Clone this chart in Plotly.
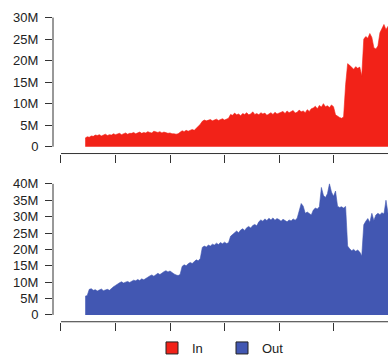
import plotly.graph_objects as go

# Daily traffic, values in millions (day index starts at 12)
start_day = 12
in_values = [
    2.0, 2.3, 2.2,
    2.5, 2.4, 2.7, 2.6, 2.8, 2.5, 2.7, 2.9, 2.6, 2.8, 2.7, 3.0, 2.8,
    2.9, 3.1, 2.8, 3.0, 3.2, 2.9, 3.1,
    3.1, 3.3, 3.0, 3.2, 3.4, 3.1, 3.3, 3.2, 3.5, 3.3, 3.2, 3.6, 3.4, 3.3, 3.5, 3.2, 3.4, 3.3, 3.1, 3.2, 3.0,
    3.0, 2.9, 3.0,
    3.4, 3.7, 3.5, 3.8, 3.6, 3.9, 4.0, 3.8, 4.2, 4.6,
    5.2,
    5.9, 6.2, 6.0, 6.1, 6.3, 6.0, 6.2, 6.4, 6.1, 6.3, 6.5, 6.2, 6.4,
    6.6,
    7.5, 7.3, 7.8, 7.4, 7.6, 7.2, 7.7, 7.5, 7.9, 7.4, 7.6, 8.1, 7.5, 7.7, 7.4, 7.9, 7.6, 7.8, 7.3, 7.7, 7.9, 7.5, 8.0, 7.6, 7.8,
    7.9, 8.2, 7.7, 8.3, 7.9, 8.1, 8.4, 7.8, 8.0, 8.5, 8.1, 8.3, 7.9, 8.6, 8.2, 8.8,
    9.0, 9.4, 8.8, 9.6, 9.2, 10.0, 9.3, 9.5, 9.1, 9.7, 9.3,
    7.4, 7.0, 6.8, 6.6, 6.9,
    14.4, 19.3, 18.9,
    18.4, 18.0, 18.6, 18.2, 18.5,
    16.4,
    25.0, 25.6, 25.2, 26.3, 25.4,
    23.0, 22.7, 23.4,
    26.5, 27.6, 28.4, 27.2, 28.0,
]
out_values = [
    5.7, 5.9,
    7.8, 8.0, 7.5, 7.7, 7.3, 7.6, 7.9, 7.4, 7.6, 7.8, 7.5,
    8.2, 8.6, 9.0, 9.5, 9.8, 10.1, 9.7, 10.0, 10.2, 9.9,
    10.3, 10.6, 10.4, 10.8, 10.5, 11.0, 10.7, 11.2,
    11.5, 11.9, 12.2, 11.8, 12.4, 12.7, 12.3, 12.9, 13.2, 13.5, 13.1, 13.4, 12.8, 12.5, 12.2, 12.0, 12.3,
    14.8, 15.3, 15.0, 15.6, 16.0, 15.7, 16.3, 16.8, 16.5, 17.2,
    20.6, 21.0, 20.7, 21.3, 21.0, 21.6, 21.3, 21.9, 21.5, 22.1, 21.7, 22.2, 21.8,
    22.0,
    24.0, 24.5, 25.2, 25.6, 25.1, 25.9, 26.3, 25.8, 26.6, 27.0, 26.5, 27.3, 27.6, 27.2,
    28.4, 29.0, 28.6, 29.3, 28.8, 29.5, 29.0, 29.6, 28.9, 29.4, 29.1,
    28.6, 29.2, 28.8, 28.4, 29.0, 28.7, 29.3, 28.9, 29.5,
    31.5, 34.0, 33.2,
    31.0, 31.4, 30.8, 30.5,
    32.0, 32.6, 32.3, 33.0,
    38.9, 36.5, 35.8, 37.0,
    40.0, 37.5, 36.2, 37.8,
    33.2, 32.8, 33.0, 32.6, 33.1,
    21.0, 20.2, 19.6, 20.0, 19.4, 19.8, 19.2,
    18.0,
    27.5, 28.6, 29.4, 28.2, 31.0, 28.8,
    30.5, 31.0, 30.6, 31.2, 30.8, 35.0, 31.0,
]

x_ticks = [0, 27, 54, 81, 108, 135]
in_ticks = [0, 5, 10, 15, 20, 25, 30]
in_tick_labels = ["0", "5M", "10M", "15M", "20M", "25M", "30M"]
out_ticks = [0, 5, 10, 15, 20, 25, 30, 35, 40]
out_tick_labels = ["0", "5M", "10M", "15M", "20M", "25M", "30M", "35M", "40M"]

RED = "#F22218"
BLUE = "#4257B2"
AX = "#333333"
FONT = "Liberation Sans, Arial, sans-serif"

W, H = 388, 363

x_in = [start_day + i for i in range(len(in_values))]
x_out = [start_day + i for i in range(len(out_values))]
x_end = 162

fig = go.Figure()
fig.add_trace(go.Scatter(x=x_in, y=in_values, mode="lines", fill="tozeroy",
                         line=dict(color=RED, width=0.6), fillcolor=RED,
                         showlegend=False, xaxis="x", yaxis="y"))
fig.add_trace(go.Scatter(x=x_out, y=out_values, mode="lines", fill="tozeroy",
                         line=dict(color=BLUE, width=0.6), fillcolor=BLUE,
                         showlegend=False, xaxis="x2", yaxis="y2"))
# legend entries
fig.add_trace(go.Bar(x=[None], y=[None], name="In", marker=dict(color=RED, line=dict(color="#222", width=1)),
                     xaxis="x", yaxis="y"))
fig.add_trace(go.Bar(x=[None], y=[None], name="Out", marker=dict(color=BLUE, line=dict(color="#222", width=1)),
                     xaxis="x2", yaxis="y2"))

xcommon = dict(range=[-3.96, x_end], showgrid=False, zeroline=False, showline=False,
               tickmode="array", tickvals=x_ticks, showticklabels=False,
               ticks="outside", ticklen=8, tickcolor=AX, tickwidth=1, domain=[53/W, 1])
ycommon = dict(showgrid=False, zeroline=False, showline=False, tickmode="array",
               ticks="outside", ticklen=7, tickcolor=AX, tickwidth=1,
               tickfont=dict(family=FONT, size=13, color="#222"), ticklabelstandoff=4)

fig.update_layout(
    width=W, height=H,
    margin=dict(l=0, r=0, t=0, b=0),
    paper_bgcolor="white", plot_bgcolor="white",
    xaxis=dict(**xcommon, anchor="y"),
    xaxis2=dict(**xcommon, anchor="y2"),
    yaxis=dict(**ycommon, range=[-1.591, 32.27], domain=[1 - 157/H, 1 - 8/H],
               tickvals=in_ticks, ticktext=in_tick_labels, anchor="x"),
    yaxis2=dict(**ycommon, range=[-2.09, 42.39], domain=[1 - 329/H, 1 - 180/H],
                tickvals=out_ticks, ticktext=out_tick_labels, anchor="x2"),
    legend=dict(orientation="h", x=152/W, y=1 - 356/H, xanchor="left", yanchor="middle",
                font=dict(family=FONT, size=13, color="#222"), entrywidth=25,
                bgcolor="rgba(0,0,0,0)"),
    showlegend=True,
    shapes=[
        dict(type="line", xref="x domain", yref="y", x0=0, x1=0, y0=in_ticks[0], y1=in_ticks[-1],
             line=dict(color=AX, width=1)),
        dict(type="line", xref="x", yref="y domain", x0=x_ticks[0], x1=x_end, y0=0, y1=0,
             line=dict(color=AX, width=1)),
        dict(type="line", xref="x2 domain", yref="y2", x0=0, x1=0, y0=out_ticks[0], y1=out_ticks[-1],
             line=dict(color=AX, width=1)),
        dict(type="line", xref="x2", yref="y2 domain", x0=x_ticks[0], x1=x_end, y0=0, y1=0,
             line=dict(color=AX, width=1)),
    ],
)

fig.write_html("out.html", config={"displayModeBar": False},
               post_script="document.body.style.margin='0';document.body.style.overflow='hidden';")
